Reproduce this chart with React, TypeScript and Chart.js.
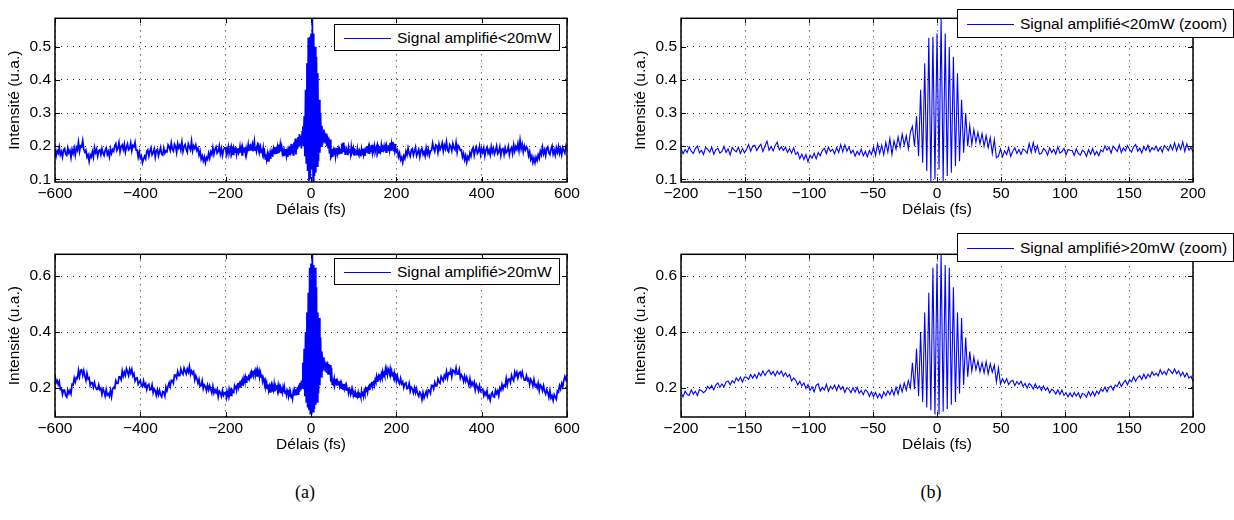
import { useEffect, useRef } from "react";
import { Chart, registerables } from "chart.js";

Chart.register(...registerables);

// ---------- data ----------
// Delay grids (fs)
const zoomStart = -200; // zoom-window samples, step 1.6 fs
const zoomStep = 1.6;
const wingLeftStart = -600; // outer wings, step 2.5 fs
const wingRightStart = 202.5;
const wingStep = 2.5;

// Signal amplifié < 20 mW, -200..200 fs
const lowZoom = [
  .195,.177,.190,.181,.198,.185,.178,.193,.200,.180,
  .188,.175,.196,.191,.182,.197,.176,.189,.194,.179,
  .184,.199,.181,.192,.174,.196,.188,.183,.197,.178,
  .193,.180,
  .190,.205,.185,.200,.203,.187,.198,.206,.184,.201,
  .215,.188,.199,.186,.202,.212,.189,.198,.187,
  .197,.181,.193,.179,.195,
  .175,.182,.162,.176,.160,.175,.153,.173,.164,.179,.162,.181,.171,.187,
  .194,.178,.197,.184,.191,.177,.196,.181,.205,.183,.204,.185,.198,.179,
  .188,.170,.185,.174,.191,.171,.184,.168,.187,.175,
  .198,.172,.207,.178,.203,.174,.212,
  .182,.223,.175,.216,.191,.228,
  .197,.237,.204,.232,.193,.243,
  .260,.200,.290,.170,.370,.150,.450,.125,.527,.095,
  .530,.100,.540,.130,.585,.095,.540,.110,.500,.120,
  .470,.140,.420,.155,.340,.180,.300,.200,
  .262,.205,.250,.212,.242,.208,.238,.200,.232,.196,.226,.178,.220,.165,
  .170,.192,.168,.186,.175,.196,.169,.185,
  .195,.178,.190,.175,.192,.187,.179,.208,.181,.211,.183,.202,.176,
  .178,.193,.187,.173,.195,.181,.191,.176,.198,.179,.184,.194,.174,.190,.188,
  .187,.172,.192,.178,.173,.188,.183,.169,.190,.176,.193,.174,.184,.171,.189,
  .183,.201,.188,.197,.179,.200,.193,.184,.204,.181,
  .195,.186,.202,.190,.182,.198,.205,.185,.194,.180,
  .199,.187,.203,.183,.196,.189,
  .200,.185,.197,.182,.202,.195,.187,.204,.189,.210,
  .186,.206,.190,.213,.184,.207,.188,.196,.183,
];
// Signal amplifié < 20 mW, -600..-202.5 fs
const lowLeft = [
  .191,.170,.186,.179,.197,.174,.184,.168,.189,.193,.176,.172,.195,.180,.187,.166,.190,.178,.194,.173,
  .196,.188,.212,.184,.201,.198,.217,.190,.182,
  .188,.167,.174,.154,.174,.167,.183,
  .167,.196,.181,.191,.170,.186,.189,.174,.193,.179,.172,.188,.195,.175,.184,.168,.192,.178,.190,
  .185,.201,.208,.187,.194,.211,.183,.199,.204,.190,.206,.182,.197,.207,.189,.193,.210,.186,.202,.198,.212,.188,
  .188,.167,.183,.164,.171,.150,.161,.170,.162,.184,
  .189,.170,.185,.195,.174,.180,.192,.167,.187,.191,.171,.183,.196,.176,.173,.194,.179,.186,
  .183,.204,.198,.187,.210,.191,.185,.206,.200,.181,.208,.195,.203,.188,.212,.184,.199,.205,.190,.182,
  .207,.197,.189,.215,.186,.201,.193,.204,.187,
  .194,.173,.185,.161,.171,.156,.168,.150,.166,.160,.179,.164,.183,.175,
  .196,.175,.191,.198,.179,.184,.201,.177,.193,.172,.189,.195,
];
// Signal amplifié < 20 mW, 202.5..600 fs
const lowRight = [
  .189,.168,.179,.159,.167,.151,.171,.163,.184,.173,
  .194,.178,.169,.188,.192,.173,.185,.197,.171,.180,.190,.168,.187,.193,.175,.183,.170,.195,.177,.191,.172,.186,
  .187,.209,.193,.184,.204,.201,.181,.206,.190,.198,.210,.185,.203,.192,.213,.188,.183,.205,.199,.186,
  .208,.194,.189,.211,.182,.202,.197,.187,
  .189,.167,.178,.159,.172,.152,.168,.161,.180,.170,.189,
  .196,.173,.190,.198,.178,.184,.200,.175,.192,.181,.195,.171,.188,.197,.179,.189,.174,.199,.182,.194,
  .176,.187,.201,.177,.183,.198,.172,.191,.193,.175,.195,.180,.185,.199,.174,.190,.196,.178,
  .204,.185,.199,.190,.208,.187,.218,.192,.206,.183,.201,.189,.198,
  .192,.171,.183,.160,.170,.151,.165,.150,.167,.157,.174,.163,.185,.174,
  .197,.177,.189,.172,.194,.198,.180,.175,.191,.201,.176,.188,.173,.195,.182,.199,.178,.192,.174,.196,
  .187,.179,.200,.190,
];

// Signal amplifié > 20 mW, -200..200 fs
const highZoom = [
  .184,.168,.188,.177,.173,.193,.178,.188,.173,.194,.190,.183,
  .189,.206,.197,.209,.193,.210,.218,.202,.214,.204,.221,
  .225,.211,.226,.218,.236,.225,.238,.221,.239,.238,.230,.248,.235,
  .248,.234,.254,.243,.261,.244,.257,.264,.248,.259,.243,.260,.249,.261,
  .242,.254,.239,.248,.225,.236,.227,.211,.224,.207,.218,.198,
  .212,.191,.204,.186,.209,.215,.189,.202,.192,.213,.188,.206,.196,.210,
  .191,.210,.195,.205,.184,.201,.195,.183,.201,.185,.202,.181,.191,.176,.193,
  .187,.170,.186,.169,.184,.165,.179,.163,.186,.172,.190,.176,.195,
  .174,.203,.178,.211,.186,.218,.192,.226,.200,
  .290,.195,.340,.170,.400,.150,.470,.130,.540,.120,
  .630,.105,.645,.105,.680,.115,.640,.125,.630,.140,
  .560,.150,.470,.180,.450,.210,.380,.240,.330,.260,
  .310,.265,
  .296,.258,.290,.254,.294,.250,.286,.256,.282,.222,.272,
  .213,.233,.218,.233,.212,.223,.227,.208,.223,.212,
  .224,.206,.216,.199,.216,.209,.196,.214,.197,.207,
  .191,.207,.192,.201,.182,.195,.190,.178,.193,.177,.192,.173,.182,.168,.182,
  .168,.184,.171,.183,.164,.180,.177,.167,.187,.172,.187,.171,.189,
  .179,.196,.188,.203,.186,.202,.207,.192,.210,.205,.222,.205,.218,.227,.211,.229,.222,.240,.224,.237,.244,.230,
  .249,.233,.249,.239,.258,.245,.252,.243,.265,.249,.259,.247,.268,.261,.251,.268,.251,.261,.243,
  .256,.239,.253,.235,.242,.224,
];
// Signal amplifié > 20 mW, -600..-202.5 fs
const highLeft = [
  .246,.218,.226,.212,.223,.195,.199,.177,.192,.192,
  .172,.167,.192,.180,.191,.179,.213,.211,.235,.221,
  .237,.234,.263,.241,.263,.265,.245,.262,.242,.227,
  .252,.232,.236,.209,.219,.219,.202,.219,.203,.195,
  .195,.211,.194,.199,.177,.196,.187,.171,.194,.174,
  .179,.170,.191,.169,.197,.202,.198,.226,.216,.216,
  .240,.239,.229,.261,.242,.257,.245,.269,.258,.244,
  .267,.253,.267,.243,.251,.225,.235,.236,.213,.220,
  .227,.209,.204,.225,.207,.215,.194,.209,.213,.193,
  .195,.211,.183,.197,.190,.173,.193,.176,.192,.175,
  .168,.187,.185,.171,.203,.190,.206,.219,.205,.227,
  .227,.217,.246,.246,.235,.259,.244,.244,.268,.254,
  .248,.271,.261,.250,.268,.257,.277,.248,.261,.251,
  .258,.228,.244,.233,.217,.231,.206,.208,.226,.197,
  .211,.205,.190,.210,.193,.208,.194,.182,.206,.182,
  .194,.183,.195,.168,.189,.183,.170,.191,.173,.182,
];
// Signal amplifié > 20 mW, 202.5..600 fs
const highRight = [
  .243,.223,.215,.234,.215,.222,.201,.215,.218,.197,
  .200,.216,.188,.203,.197,.182,.201,.183,.198,.179,
  .170,.185,.177,.158,.183,.164,.176,.187,.172,.193,
  .191,.181,.209,.208,.196,.220,.207,.207,.232,.220,
  .216,.241,.233,.225,.245,.236,.259,.235,.253,.250,
  .264,.240,.264,.261,.252,.272,.249,.250,.266,.235,
  .247,.240,.223,.242,.224,.238,.223,.210,.233,.208,
  .220,.209,.221,.192,.212,.204,.189,.208,.188,.194,
  .196,.172,.185,.175,.190,.164,.172,.156,.178,.184,
  .169,.167,.192,.180,.190,.172,.200,.192,.212,.196,
  .210,.206,.234,.210,.231,.232,.219,.245,.233,.226,
  .257,.244,.256,.236,.253,.257,.241,.257,.239,.228,
  .228,.244,.227,.233,.212,.231,.223,.207,.230,.208,
  .212,.200,.217,.190,.211,.205,.190,.208,.188,.178,
  .194,.184,.166,.190,.164,.172,.155,.176,.167,.159,
  .189,.185,.208,.196,.216,.204,.227,.241,.229,.246,
];

// Axes
const fullXTicks = [-600, -400, -200, 0, 200, 400, 600];
const zoomXTicks = [-200, -150, -100, -50, 0, 50, 100, 150, 200];
const lowYTicks = [0.1, 0.2, 0.3, 0.4, 0.5];
const highYTicks = [0.2, 0.4, 0.6];
const lowYRange = [0.092, 0.586];
const highYRange = [0.096, 0.678];

const labelLowFull = "Signal amplifié<20mW";
const labelHighFull = "Signal amplifié>20mW";
const labelLowZoom = "Signal amplifié<20mW (zoom)";
const labelHighZoom = "Signal amplifié>20mW (zoom)";
const xTitle = "Délais (fs)";
const yTitle = "Intensité (u.a.)";

// ---------- helpers ----------
const FONT = "'Liberation Sans', Arial, Helvetica, sans-serif";
const FONT_SIZE = 15.5;

function toPoints(values: number[], start: number, step: number) {
  return values.map((y, i) => ({ x: +(start + step * i).toFixed(3), y }));
}

const lowFullPoints = [
  ...toPoints(lowLeft, wingLeftStart, wingStep),
  ...toPoints(lowZoom, zoomStart, zoomStep),
  ...toPoints(lowRight, wingRightStart, wingStep),
];
const highFullPoints = [
  ...toPoints(highLeft, wingLeftStart, wingStep),
  ...toPoints(highZoom, zoomStart, zoomStep),
  ...toPoints(highRight, wingRightStart, wingStep),
];
const lowZoomPoints = toPoints(lowZoom, zoomStart, zoomStep);
const highZoomPoints = toPoints(highZoom, zoomStart, zoomStep);

const fmtNum = (v: number) => String(v).replace("-", "\u2212");

const framePlugin = {
  id: "matlabFrame",
  afterDatasetsDraw(chart: any) {
    const { ctx, chartArea } = chart;
    const { left, right, top, bottom } = chartArea;
    const sx = chart.scales.x;
    const sy = chart.scales.y;
    ctx.save();
    ctx.strokeStyle = "#000";
    ctx.lineWidth = 1;
    const tl = 5;
    ctx.beginPath();
    sx.ticks.forEach((t: any) => {
      const p = Math.round(sx.getPixelForValue(t.value)) + 0.5;
      ctx.moveTo(p, bottom);
      ctx.lineTo(p, bottom - tl);
      ctx.moveTo(p, top);
      ctx.lineTo(p, top + tl);
    });
    sy.ticks.forEach((t: any) => {
      const p = Math.round(sy.getPixelForValue(t.value)) + 0.5;
      ctx.moveTo(left, p);
      ctx.lineTo(left + tl, p);
      ctx.moveTo(right, p);
      ctx.lineTo(right - tl, p);
    });
    ctx.stroke();
    ctx.lineWidth = 1.5;
    ctx.strokeRect(left, top, right - left, bottom - top);
    ctx.restore();
  },
};

type PlotProps = {
  points: { x: number; y: number }[];
  label: string;
  xRange: [number, number];
  xTicks: number[];
  yRange: number[];
  yTicks: number[];
  lineWidth: number;
  left: number;
  top: number;
  areaH: number;
};

const PAD_TOP = 10;
const Y_W = 55;
const X_H = 40;
const PAD_R = 20;
const AREA_W = 512;

function Plot(props: PlotProps) {
  const ref = useRef<HTMLCanvasElement | null>(null);
  const width = Y_W + AREA_W + PAD_R;
  const height = PAD_TOP + props.areaH + X_H;
  useEffect(() => {
    if (!ref.current) return;
    const font = { family: FONT, size: FONT_SIZE };
    const chart = new Chart(ref.current, {
      type: "line",
      data: {
        datasets: [
          {
            label: props.label,
            data: props.points,
            borderColor: "#0000ff",
            borderWidth: props.lineWidth,
            pointRadius: 0,
            tension: 0,
            fill: false,
          },
        ],
      },
      options: {
        animation: false,
        responsive: false,
        devicePixelRatio: 1,
        events: [],
        layout: { padding: { top: PAD_TOP, right: PAD_R, bottom: 0, left: 0 } },
        plugins: { legend: { display: false }, tooltip: { enabled: false } },
        scales: {
          x: {
            type: "linear",
            min: props.xRange[0],
            max: props.xRange[1],
            afterBuildTicks: (a: any) => {
              a.ticks = props.xTicks.map((v) => ({ value: v }));
            },
            afterFit: (s: any) => {
              s.height = X_H;
            },
            ticks: {
              autoSkip: false,
              maxRotation: 0,
              padding: 2,
              color: "#000",
              font,
              callback: (v: any) => fmtNum(Number(v)),
            },
            grid: { color: "rgba(0,0,0,0.85)", lineWidth: 1, drawTicks: false },
            border: { display: false, dash: [1, 5] },
            title: {
              display: true,
              text: xTitle,
              color: "#000",
              font,
              padding: { top: 0, bottom: 3 },
            },
          },
          y: {
            type: "linear",
            min: props.yRange[0],
            max: props.yRange[1],
            afterBuildTicks: (a: any) => {
              a.ticks = props.yTicks.map((v) => ({ value: v }));
            },
            afterFit: (s: any) => {
              s.width = Y_W;
            },
            ticks: {
              autoSkip: false,
              padding: 4,
              color: "#000",
              font,
              callback: (v: any) => Number(v).toFixed(1),
            },
            grid: { color: "rgba(0,0,0,0.85)", lineWidth: 1, drawTicks: false },
            border: { display: false, dash: [1, 5] },
            title: {
              display: true,
              text: yTitle,
              color: "#000",
              font,
              padding: { top: 5, bottom: 0 },
            },
          },
        },
      },
      plugins: [framePlugin],
    } as any);
    return () => chart.destroy();
  }, []);
  return (
    <canvas
      ref={ref}
      width={width}
      height={height}
      style={{ position: "absolute", left: props.left, top: props.top, width, height }}
    />
  );
}

function Legend(p: { left: number; top: number; width: number; height: number; text: string }) {
  return (
    <div
      style={{
        position: "absolute",
        left: p.left,
        top: p.top,
        width: p.width,
        height: p.height,
        boxSizing: "border-box",
        border: "1px solid #000",
        background: "#fff",
        fontFamily: FONT,
        fontSize: FONT_SIZE,
        color: "#000",
      }}
    >
      <div
        style={{
          position: "absolute",
          left: 9,
          top: Math.round(p.height / 2) - 1,
          width: 47,
          height: 0,
          borderTop: "1px solid #0000ff",
        }}
      />
      <div
        style={{
          position: "absolute",
          left: 62,
          top: 0,
          height: p.height - 2,
          lineHeight: `${p.height - 2}px`,
          whiteSpace: "nowrap",
        }}
      >
        {p.text}
      </div>
    </div>
  );
}

const captionStyle: any = {
  position: "absolute",
  top: 492,
  transform: "translate(-50%, -50%)",
  fontFamily: "'Liberation Serif', 'DejaVu Serif', serif",
  fontSize: 18,
  color: "#000",
};

export default function App() {
  return (
    <div
      style={{
        position: "absolute",
        left: 0,
        top: 0,
        width: 1234,
        height: 520,
        background: "#fff",
        overflow: "hidden",
      }}
    >
      <Plot
        points={lowFullPoints}
        label={labelLowFull}
        xRange={[-600, 600]}
        xTicks={fullXTicks}
        yRange={lowYRange}
        yTicks={lowYTicks}
        lineWidth={1.7}
        left={0}
        top={5}
        areaH={167}
      />
      <Plot
        points={lowZoomPoints}
        label={labelLowZoom}
        xRange={[-200, 200]}
        xTicks={zoomXTicks}
        yRange={lowYRange}
        yTicks={lowYTicks}
        lineWidth={1.1}
        left={626}
        top={5}
        areaH={167}
      />
      <Plot
        points={highFullPoints}
        label={labelHighFull}
        xRange={[-600, 600]}
        xTicks={fullXTicks}
        yRange={highYRange}
        yTicks={highYTicks}
        lineWidth={1.7}
        left={0}
        top={241}
        areaH={166}
      />
      <Plot
        points={highZoomPoints}
        label={labelHighZoom}
        xRange={[-200, 200]}
        xTicks={zoomXTicks}
        yRange={highYRange}
        yTicks={highYTicks}
        lineWidth={1.1}
        left={626}
        top={241}
        areaH={166}
      />
      <Legend left={334} top={24} width={226} height={27} text={labelLowFull} />
      <Legend left={957} top={9} width={277} height={29} text={labelLowZoom} />
      <Legend left={334} top={258} width={226} height={27} text={labelHighFull} />
      <Legend left={957} top={233} width={277} height={29} text={labelHighZoom} />
      <div style={{ ...captionStyle, left: 305 }}>(a)</div>
      <div style={{ ...captionStyle, left: 931 }}>(b)</div>
    </div>
  );
}
